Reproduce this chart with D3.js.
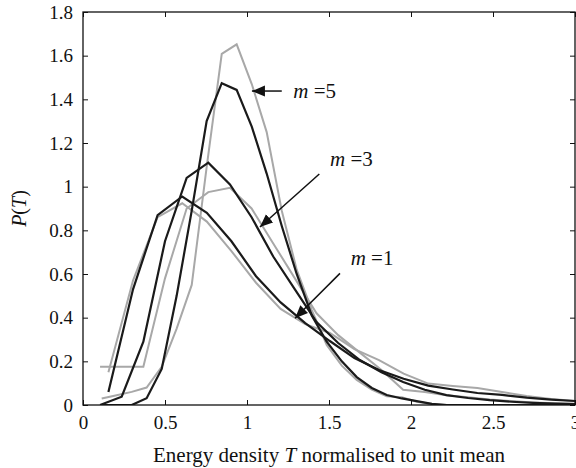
<!DOCTYPE html>
<html>
<head>
<meta charset="utf-8">
<script src="https://cdn.jsdelivr.net/npm/d3@7"></script>
<style>
  body { margin: 0; background: #fff; }
  text { font-family: "Liberation Serif", "Times New Roman", serif; }
</style>
</head>
<body>
<div id="chart"></div>
<script>
// m = 5 curves (finest binning)
const xM5 = [0.114, 0.205, 0.297, 0.388, 0.480, 0.571, 0.663, 0.754, 0.846, 0.937, 1.029, 1.120, 1.212, 1.303, 1.395, 1.486, 1.578, 1.669, 1.761, 1.852, 1.944, 2.035, 2.127, 2.218, 2.310, 2.401, 2.493, 2.584, 2.676, 2.767, 2.859, 2.950]
const blackM5 = [0, 0, 0, 0.031, 0.165, 0.50, 0.89, 1.30, 1.474, 1.443, 1.275, 1.06, 0.82, 0.60, 0.41, 0.29, 0.20, 0.128, 0.078, 0.046, 0.030, 0.018, 0.005, 0, 0, 0, 0, 0, 0, 0, 0, 0]
const grayM5 = [0.03, 0.045, 0.06, 0.08, 0.175, 0.35, 0.55, 1.09, 1.608, 1.652, 1.47, 1.25, 0.89, 0.62, 0.435, 0.275, 0.18, 0.115, 0.07, 0.04, 0.035, 0.015, 0.005, 0, 0, 0, 0, 0, 0, 0, 0, 0]

// m = 3 curves
const xM3 = [0.104, 0.236, 0.368, 0.500, 0.632, 0.764, 0.896, 1.028, 1.160, 1.292, 1.424, 1.556, 1.688, 1.820, 1.952, 2.084, 2.216, 2.348, 2.480, 2.612, 2.744, 2.876, 3.008]
const blackM3 = [0, 0.038, 0.29, 0.75, 1.04, 1.11, 1.01, 0.86, 0.68, 0.53, 0.38, 0.284, 0.206, 0.15, 0.105, 0.07, 0.045, 0.032, 0.022, 0.015, 0.01, 0.006, 0.004]
const grayM3 = [0.175, 0.175, 0.175, 0.58, 0.90, 0.975, 0.995, 0.90, 0.74, 0.58, 0.42, 0.32, 0.24, 0.16, 0.07, 0.06, 0.045, 0.035, 0.025, 0.018, 0.012, 0.008, 0.005]

// m = 1 curves
const xM1 = [0.155, 0.305, 0.455, 0.605, 0.755, 0.905, 1.055, 1.205, 1.355, 1.505, 1.655, 1.805, 1.955, 2.105, 2.255, 2.405, 2.555, 2.705, 2.855, 3.005]
const blackM1 = [0.06, 0.53, 0.87, 0.955, 0.88, 0.75, 0.59, 0.47, 0.375, 0.293, 0.215, 0.16, 0.12, 0.089, 0.071, 0.055, 0.046, 0.034, 0.025, 0.018]
const grayM1 = [0.15, 0.57, 0.86, 0.924, 0.84, 0.705, 0.56, 0.44, 0.37, 0.33, 0.256, 0.206, 0.144, 0.098, 0.087, 0.078, 0.06, 0.041, 0.027, 0.018]

const xTicks = [0, 0.5, 1, 1.5, 2, 2.5, 3]
const yTicks = [0, 0.2, 0.4, 0.6, 0.8, 1, 1.2, 1.4, 1.6, 1.8]

const mLabels = ["5", "3", "1"]

const width = 576
const height = 468
const margin = ({top: 12, right: 1, bottom: 63, left: 83})
const serif = '"Liberation Serif", "Times New Roman", serif'

const x = d3.scaleLinear()
  .domain([0, 3])
  .range([margin.left, width - margin.right])

const y = d3.scaleLinear()
  .domain([0, 1.8])
  .range([height - margin.bottom, margin.top])

const svg = d3.select("#chart").append("svg")
  .attr("width", width)
  .attr("height", height)
  .attr("viewBox", [0, 0, width, height])

const defs = svg.append("defs")

defs.append("clipPath")
    .attr("id", "plot")
  .append("rect")
    .attr("x", x(0)).attr("y", y(1.8))
    .attr("width", x(3) - x(0)).attr("height", y(0) - y(1.8))

defs.append("marker")
    .attr("id", "head")
    .attr("markerUnits", "userSpaceOnUse")
    .attr("viewBox", "0 -6 13 12")
    .attr("refX", 13).attr("refY", 0)
    .attr("markerWidth", 13).attr("markerHeight", 12)
    .attr("orient", "auto")
  .append("path")
    .attr("d", "M0,-5.5L13,0L0,5.5Z")
    .attr("fill", "#111")

const line = d3.line()
  .x(d => x(d[0]))
  .y(d => y(d[1]))

const series = [
  {xs: xM1, ys: grayM1, color: "#a8a8a8", w: 2},
  {xs: xM3, ys: grayM3, color: "#a8a8a8", w: 2},
  {xs: xM5, ys: grayM5, color: "#a8a8a8", w: 2},
  {xs: xM1, ys: blackM1, color: "#1a1a1a", w: 2.2},
  {xs: xM3, ys: blackM3, color: "#1a1a1a", w: 2.2},
  {xs: xM5, ys: blackM5, color: "#1a1a1a", w: 2.2}
]

svg.append("g")
    .attr("clip-path", "url(#plot)")
    .attr("fill", "none")
  .selectAll("path")
  .data(series)
  .join("path")
    .attr("stroke", d => d.color)
    .attr("stroke-width", d => d.w)
    .attr("d", d => line(d.xs.map((v, i) => [v, d.ys[i]])))

// axes, ticks pointing inward on all four sides
const fmt = v => String(+v.toFixed(1))

const xAxis = g => g
    .attr("transform", `translate(0,${y(0)})`)
    .call(d3.axisBottom(x).tickValues(xTicks).tickFormat(fmt).tickSizeInner(-5).tickSizeOuter(0).tickPadding(11))
    .call(g => g.select(".domain").remove())

const yAxis = g => g
    .attr("transform", `translate(${x(0)},0)`)
    .call(d3.axisLeft(y).tickValues(yTicks).tickFormat(fmt).tickSizeInner(-5).tickSizeOuter(0).tickPadding(10))
    .call(g => g.select(".domain").remove())

svg.append("g").call(xAxis)
svg.append("g").call(yAxis)

svg.append("g")
    .attr("transform", `translate(0,${y(1.8)})`)
    .call(d3.axisTop(x).tickValues(xTicks).tickFormat("").tickSizeInner(-5).tickSizeOuter(0))
    .call(g => g.select(".domain").remove())

svg.append("g")
    .attr("transform", `translate(${x(3)},0)`)
    .call(d3.axisRight(y).tickValues(yTicks).tickFormat("").tickSizeInner(-5).tickSizeOuter(0))
    .call(g => g.select(".domain").remove())

svg.selectAll(".tick line").attr("stroke", "#111").attr("stroke-width", 1)
svg.selectAll(".tick text")
    .attr("fill", "#111")
    .attr("font-family", serif)
    .style("font-family", serif)
    .style("font-size", "19px")

svg.append("rect")
    .attr("x", x(0)).attr("y", y(1.8))
    .attr("width", x(3) - x(0)).attr("height", y(0) - y(1.8))
    .attr("fill", "none")
    .attr("stroke", "#111")
    .attr("stroke-width", 1.3)

// axis titles
const xt = svg.append("text")
    .attr("x", (x(0) + x(3)) / 2)
    .attr("y", 462)
    .attr("text-anchor", "middle")
    .attr("fill", "#111")
    .style("font-size", "21px")
xt.append("tspan").text("Energy density ")
xt.append("tspan").style("font-style", "italic").text("T")
xt.append("tspan").text(" normalised to unit mean")

const yt = svg.append("text")
    .attr("transform", `translate(26,${y(0.9)}) rotate(-90)`)
    .attr("text-anchor", "middle")
    .attr("fill", "#111")
    .style("font-size", "20px")
yt.append("tspan").style("font-style", "italic").text("P")
yt.append("tspan").text("(")
yt.append("tspan").style("font-style", "italic").text("T")
yt.append("tspan").text(")")

// annotation arrows (data units)
const notes = [
  {tip: [1.03, 1.438], tail: [1.212, 1.438], at: [1.282, 1.406]},
  {tip: [1.079, 0.815], tail: [1.441, 1.058], at: [1.506, 1.095]},
  {tip: [1.293, 0.397], tail: [1.567, 0.603], at: [1.632, 0.641]}
]

svg.append("g")
  .selectAll("line")
  .data(notes)
  .join("line")
    .attr("x1", d => x(d.tail[0])).attr("y1", d => y(d.tail[1]))
    .attr("x2", d => x(d.tip[0])).attr("y2", d => y(d.tip[1]))
    .attr("stroke", "#111")
    .attr("stroke-width", 1.5)
    .attr("marker-end", "url(#head)")

const lab = svg.append("g")
  .selectAll("text")
  .data(notes)
  .join("text")
    .attr("x", d => x(d.at[0])).attr("y", d => y(d.at[1]))
    .attr("fill", "#111")
    .style("font-size", "21px")
lab.append("tspan").style("font-style", "italic").text("m")
lab.append("tspan").text((d, i) => " =" + mLabels[i])
</script>
</body>
</html>
